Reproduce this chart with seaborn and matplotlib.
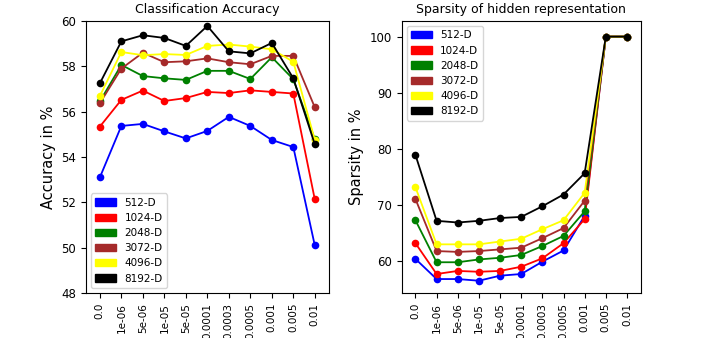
import numpy as np
import pandas as pd
import matplotlib
matplotlib.use("Agg")
import matplotlib.pyplot as plt
from matplotlib.patches import Patch
import seaborn as sns

lambdas = ["0.0", "1e-06", "5e-06", "1e-05", "5e-05", "0.0001", "0.0003",
           "0.0005", "0.001", "0.005", "0.01"]
dims = ["512-D", "1024-D", "2048-D", "3072-D", "4096-D", "8192-D"]
colors = ["blue", "red", "green", "brown", "yellow", "black"]

# classification accuracy (%)
acc_512 = [53.1, 55.37, 55.46, 55.13, 54.82, 55.15, 55.77, 55.37, 54.75, 54.44, 50.1]
acc_1024 = [55.34, 56.52, 56.93, 56.47, 56.6, 56.87, 56.82, 56.94, 56.87, 56.8, 52.13]
acc_2048 = [56.45, 58.06, 57.57, 57.47, 57.4, 57.8, 57.8, 57.44, 58.4, 57.43, 54.78]
acc_3072 = [56.37, 57.9, 58.6, 58.18, 58.22, 58.35, 58.18, 58.09, 58.46, 58.46, 56.19]
acc_4096 = [56.69, 58.63, 58.49, 58.54, 58.5, 58.9, 58.96, 58.87, 58.75, 58.2, 54.75]
acc_8192 = [57.25, 59.1, 59.37, 59.25, 58.9, 59.78, 58.66, 58.57, 59.03, 57.47, 54.56]

# sparsity of hidden representation (%)
sp_512 = [60.3, 56.7, 56.7, 56.4, 57.3, 57.6, 59.8, 61.8, 68.0, 100.0, 100.0]
sp_1024 = [63.1, 57.6, 58.15, 58.0, 58.15, 58.9, 60.4, 63.1, 67.4, 100.0, 100.0]
sp_2048 = [67.2, 59.7, 59.7, 60.2, 60.5, 61.0, 62.6, 64.4, 68.8, 100.0, 100.0]
sp_3072 = [71.0, 61.7, 61.55, 61.7, 62.0, 62.3, 64.0, 65.8, 70.7, 100.0, 100.0]
sp_4096 = [73.1, 62.9, 62.9, 62.9, 63.4, 63.9, 65.6, 67.2, 72.1, 100.0, 100.0]
sp_8192 = [78.87, 67.1, 66.8, 67.1, 67.6, 67.8, 69.7, 71.8, 75.6, 100.0, 100.0]


def to_long(series):
    rows = []
    for dim, vals in zip(dims, series):
        for i, v in enumerate(vals):
            rows.append({"pos": i, "value": v, "dim": dim})
    return pd.DataFrame(rows)


acc_df = to_long([acc_512, acc_1024, acc_2048, acc_3072, acc_4096, acc_8192])
sp_df = to_long([sp_512, sp_1024, sp_2048, sp_3072, sp_4096, sp_8192])
palette = dict(zip(dims, colors))

fig = plt.figure(figsize=(7.04, 3.38), dpi=100)
ax1 = fig.add_axes([0.122, 0.133, 0.345, 0.805])
ax2 = fig.add_axes([0.5706, 0.133, 0.3395, 0.805])

for ax, df in [(ax1, acc_df), (ax2, sp_df)]:
    sns.lineplot(data=df, x="pos", y="value", hue="dim", palette=palette,
                 marker="o", markersize=5.5, markeredgewidth=0, linewidth=1.3,
                 legend=False, ax=ax, sort=False)
    ax.set_xticks(range(len(lambdas)))
    ax.set_xticklabels(lambdas, rotation=90, fontsize=7.5)
    ax.tick_params(axis="y", labelsize=8.5)
    ax.set_xlim(-0.65, 10.65)
    ax.set_xlabel("")

handles = [Patch(color=c, label=d) for d, c in zip(dims, colors)]

ax1.set_ylim(48, 60)
ax1.set_yticks(np.arange(48, 61, 2))
ax1.set_title("Classification Accuracy", fontsize=9)
ax1.set_ylabel("Accuracy in %", fontsize=10.5)
ax1.legend(handles=handles, loc="lower left", fontsize=7.5)

ax2.set_ylim(54.2, 102.8)
ax2.set_yticks([60, 70, 80, 90, 100])
ax2.set_title("Sparsity of hidden representation", fontsize=9)
ax2.set_ylabel("Sparsity in %", fontsize=10.5)
ax2.legend(handles=handles, loc="upper left", fontsize=7.5)

fig.savefig("out.png", dpi=100)
